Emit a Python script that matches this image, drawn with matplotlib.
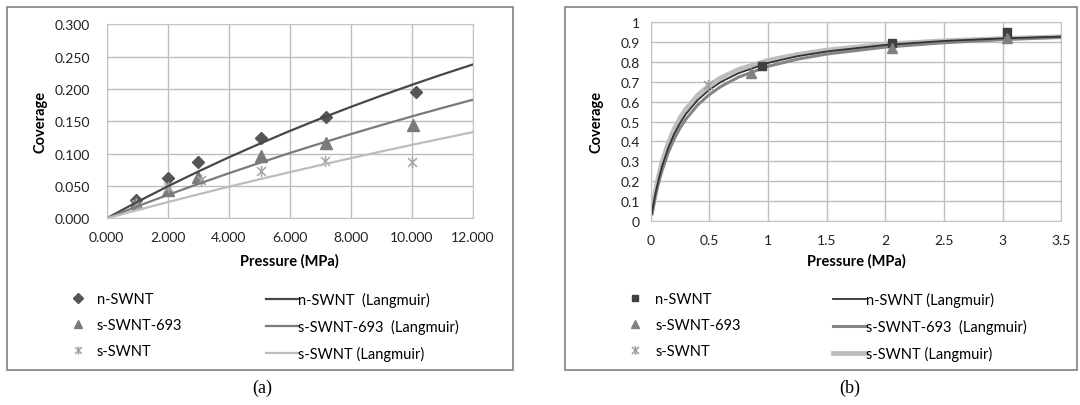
import matplotlib
matplotlib.use("Agg")
import matplotlib.pyplot as plt
from matplotlib.patches import Rectangle
from matplotlib.path import Path
from matplotlib.ticker import FuncFormatter

plt.rcParams['font.family'] = ['Lato', 'DejaVu Sans']

# ---- panel (a) data ----
pa_n = [0.96, 2.02, 3.0, 5.06, 7.18, 10.14]
cov_a_n = [0.029, 0.062, 0.087, 0.124, 0.157, 0.196]
pa_693 = [0.96, 2.02, 3.0, 5.06, 7.18, 10.05]
cov_a_693 = [0.023, 0.044, 0.064, 0.096, 0.117, 0.144]
pa_s = [0.96, 2.0, 3.1, 5.06, 7.15, 10.0]
cov_a_s = [0.022, 0.049, 0.060, 0.073, 0.089, 0.087]

# Langmuir fits
pa_fit = [0, 1, 2, 3, 4, 5, 6, 7, 8, 9, 10, 11, 12]
fit_a_n = [0, 0.0253, 0.0494, 0.0723, 0.0942, 0.1150, 0.1350, 0.1540,
           0.1722, 0.1896, 0.2063, 0.2224, 0.2378]
fit_a_693 = [0, 0.0184, 0.0361, 0.0531, 0.0696, 0.0855, 0.1009, 0.1157,
             0.1301, 0.1440, 0.1575, 0.1706, 0.1833]
fit_a_s = [0, 0.0126, 0.0250, 0.0370, 0.0487, 0.0602, 0.0713, 0.0822,
           0.0929, 0.1033, 0.1135, 0.1234, 0.1332]

# ---- panel (b) data ----
pb_n = [0.95, 2.06, 3.04]
cov_b_n = [0.782, 0.895, 0.95]
pb_693 = [0.855, 2.06, 3.04]
cov_b_693 = [0.742, 0.87, 0.922]
pb_s = [0.49]
cov_b_s = [0.686]

pb_fit = [0.01, 0.025, 0.05, 0.075, 0.1, 0.15, 0.2, 0.25, 0.3, 0.4, 0.5,
          0.6, 0.75, 1.0, 1.25, 1.5, 2.0, 2.5, 3.0, 3.5]
fit_b_n = [0.037, 0.088, 0.163, 0.225, 0.280, 0.368, 0.437, 0.492, 0.538,
           0.608, 0.660, 0.700, 0.744, 0.795, 0.829, 0.853, 0.886, 0.906,
           0.919, 0.928]
fit_b_693 = [0.034, 0.080, 0.149, 0.208, 0.259, 0.344, 0.412, 0.467, 0.512,
             0.583, 0.636, 0.677, 0.724, 0.778, 0.814, 0.840, 0.875, 0.897,
             0.913, 0.925]
fit_b_s = [0.041, 0.097, 0.177, 0.244, 0.301, 0.392, 0.462, 0.518, 0.563,
           0.632, 0.683, 0.721, 0.763, 0.808, 0.838, 0.860, 0.890, 0.907,
           0.918, 0.927]

W, H = 1080, 406
fig = plt.figure(figsize=(W / 100, H / 100), dpi=100)

def box(x0, y0, x1, y1):
    return [x0 / W, 1 - y1 / H, (x1 - x0) / W, (y1 - y0) / H]

# outer frames
for x0, x1 in [(6.7, 513.3), (565, 1077)]:
    fig.add_artist(Rectangle((x0 / W, 1 - 370.7 / H), (x1 - x0) / W, (370.7 - 8) / H,
                             transform=fig.transFigure, fill=False,
                             ec='#8a8a8a', lw=1.3))

star = Path([(-1, -1), (1, 1), (-1, 1), (1, -1), (0, -1.25), (0, 1.25)],
            [Path.MOVETO, Path.LINETO, Path.MOVETO, Path.LINETO, Path.MOVETO, Path.LINETO])

c_dark, c_mid, c_light = '#474747', '#7a7a7a', '#bdbdbd'
tick_fs = 10
lab_fs = 10.5
leg_fs = 10.5

def style(ax, xpad, ypad):
    ax.grid(True, color='#bdbdbd', lw=1.0)
    ax.set_axisbelow(True)
    for s in ax.spines.values():
        s.set_color('#c4c4c4')
    ax.tick_params(length=0, labelsize=tick_fs, colors='#222222')
    ax.tick_params(axis='x', pad=xpad)
    ax.tick_params(axis='y', pad=ypad)

# ---------------- panel (a) ----------------
ax = fig.add_axes(box(106.7, 25.3, 472.7, 219.3))
m1, = ax.plot(pa_n, cov_a_n, ls='none', marker='D', ms=6.5, color='#555555', label='n-SWNT')
m2, = ax.plot(pa_693, cov_a_693, ls='none', marker='^', ms=8, color='#7a7a7a', label='s-SWNT-693')
m3, = ax.plot(pa_s, cov_a_s, ls='none', marker=star, ms=8, mfc='none', mec='#a6a6a6',
              mew=1.1, label='s-SWNT')
l1, = ax.plot(pa_fit, fit_a_n, color=c_dark, lw=1.6, label='n-SWNT  (Langmuir)')
l2, = ax.plot(pa_fit, fit_a_693, color=c_mid, lw=1.6, label='s-SWNT-693  (Langmuir)')
l3, = ax.plot(pa_fit, fit_a_s, color=c_light, lw=1.6, label='s-SWNT (Langmuir)')
ax.set_xlim(0, 12)
ax.set_ylim(0, 0.3)
ax.set_xticks([0, 2, 4, 6, 8, 10, 12])
ax.set_yticks([0, 0.05, 0.1, 0.15, 0.2, 0.25, 0.3])
ax.xaxis.set_major_formatter(FuncFormatter(lambda v, p: f'{v:.3f}'))
ax.yaxis.set_major_formatter(FuncFormatter(lambda v, p: f'{v:.3f}'))
style(ax, 9.5, 12)

leg_kw = dict(loc='upper left', bbox_transform=fig.transFigure, frameon=False,
              borderpad=0, borderaxespad=0, fontsize=leg_fs, labelspacing=0.83)
fig.legend(handles=[m1, m2, m3], bbox_to_anchor=(71.85 / W, 1 - 293 / H),
           handlelength=0.8, handletextpad=0.9, markerscale=0.75, **leg_kw)
fig.legend(handles=[l1, l2, l3], bbox_to_anchor=(265.5 / W, 1 - 293 / H),
           handlelength=2.23, handletextpad=0.03, **leg_kw)

fig.text(40 / W, 1 - 122 / H, 'Coverage', rotation=90, ha='center', va='center',
         fontsize=lab_fs, fontweight='bold')
fig.text(289.7 / W, 1 - 261 / H, 'Pressure (MPa)', ha='center', va='center',
         fontsize=lab_fs, fontweight='bold')
fig.text(262 / W, 1 - 388 / H, '(a)', ha='center', va='center',
         fontsize=13, family='Liberation Serif')

# ---------------- panel (b) ----------------
ax = fig.add_axes(box(650.7, 23.3, 1061.3, 221.7))
ll3, = ax.plot(pb_fit, fit_b_s, color=c_light, lw=3.4, label='s-SWNT (Langmuir)')
ll2, = ax.plot(pb_fit, fit_b_693, color='#858585', lw=2.2, label='s-SWNT-693  (Langmuir)')
ll1, = ax.plot(pb_fit, fit_b_n, color='#333333', lw=1.3, label='n-SWNT (Langmuir)')
mm1, = ax.plot(pb_n, cov_b_n, ls='none', marker='s', ms=6, color='#404040', label='n-SWNT')
mm2, = ax.plot(pb_693, cov_b_693, ls='none', marker='^', ms=7, color='#808080', label='s-SWNT-693')
mm3, = ax.plot(pb_s, cov_b_s, ls='none', marker=star, ms=8, mfc='none', mec='#a0a0a0',
               mew=1.1, label='s-SWNT')
ax.set_xlim(0, 3.5)
ax.set_ylim(0, 1)
ax.set_xticks([0, 0.5, 1, 1.5, 2, 2.5, 3, 3.5])
ax.set_yticks([i / 10 for i in range(11)])
ax.xaxis.set_major_formatter(FuncFormatter(lambda v, p: f'{v:g}'))
ax.yaxis.set_major_formatter(FuncFormatter(lambda v, p: f'{v:g}'))
style(ax, 9.5, 8)

fig.legend(handles=[mm1, mm2, mm3], bbox_to_anchor=(629.1 / W, 1 - 293 / H),
           handlelength=0.8, handletextpad=1.0, markerscale=0.8, **leg_kw)
fig.legend(handles=[ll1, ll2, ll3], bbox_to_anchor=(833 / W, 1 - 293 / H),
           handlelength=2.26, handletextpad=0.03, **leg_kw)

fig.text(597 / W, 1 - 122 / H, 'Coverage', rotation=90, ha='center', va='center',
         fontsize=lab_fs, fontweight='bold')
fig.text(856 / W, 1 - 261 / H, 'Pressure (MPa)', ha='center', va='center',
         fontsize=lab_fs, fontweight='bold')
fig.text(850 / W, 1 - 388 / H, '(b)', ha='center', va='center',
         fontsize=13, family='Liberation Serif')

fig.savefig('out.png', dpi=100)
